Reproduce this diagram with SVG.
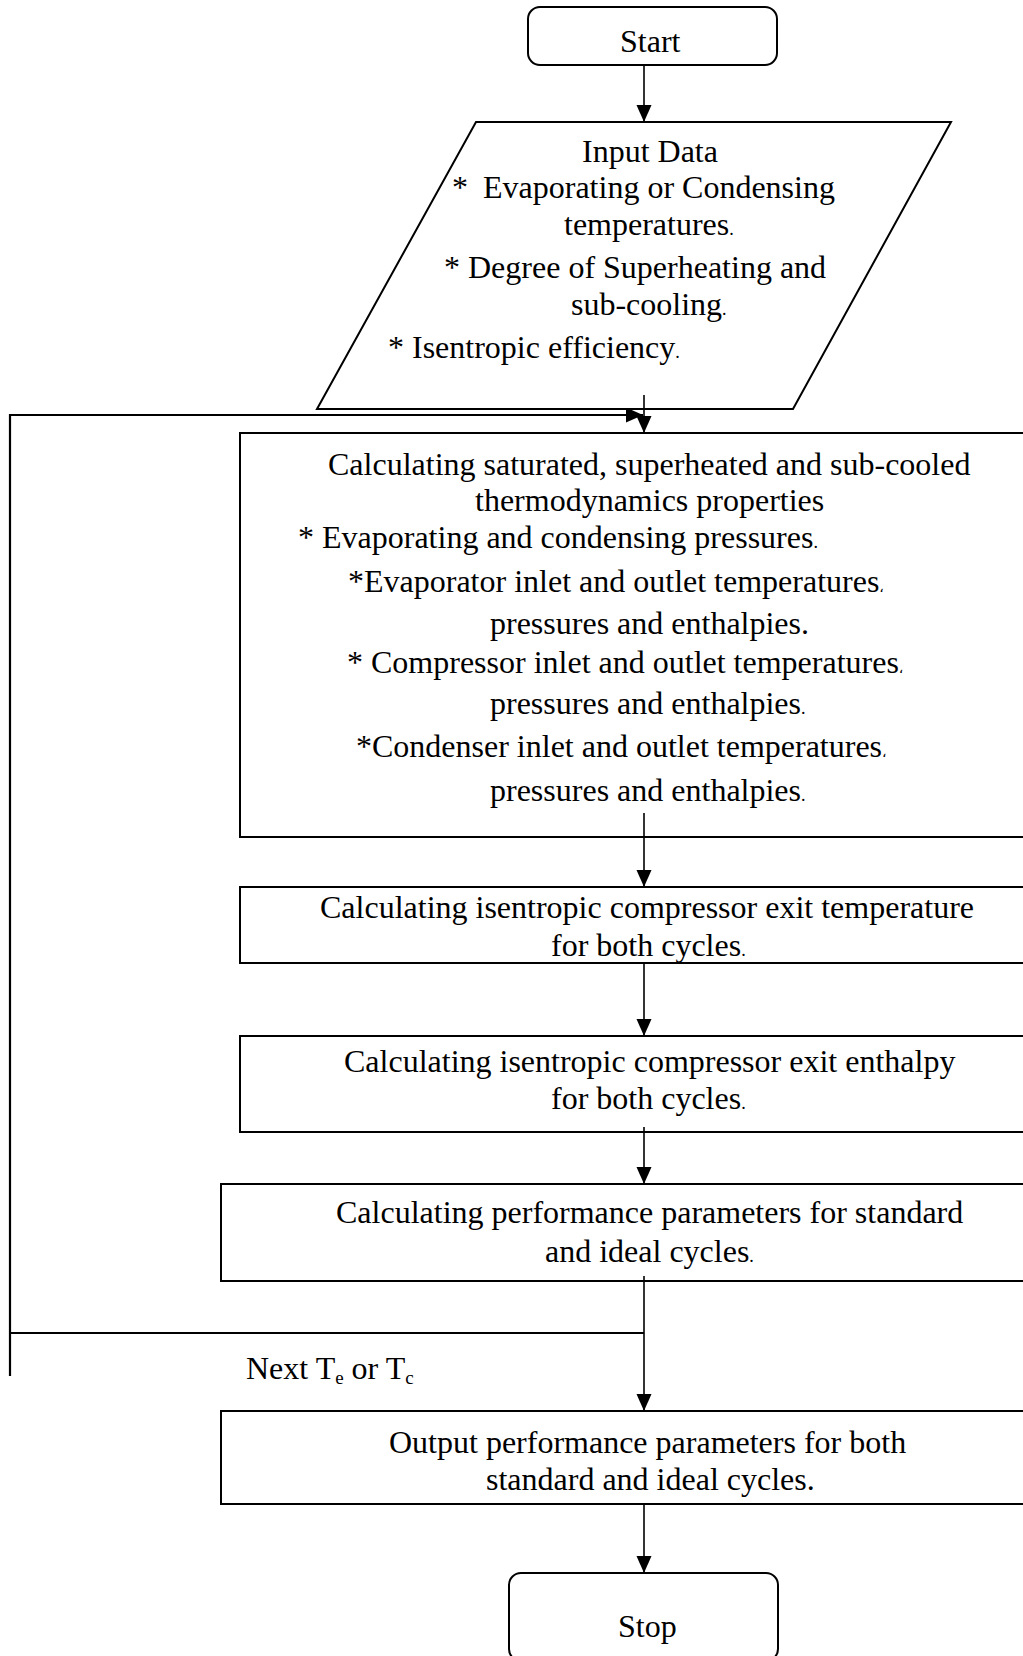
<svg xmlns="http://www.w3.org/2000/svg" width="1023" height="1656" viewBox="0 0 1023 1656">
<defs>
<marker id="ah" markerUnits="userSpaceOnUse" markerWidth="18" markerHeight="16" refX="17" refY="7.5" orient="auto">
<path d="M0,0 L17,7.5 L0,15 z" fill="#000"/>
</marker>
<style>
.nd{fill:#fff;stroke:#000;stroke-width:2}
.cn{fill:none;stroke:#000;stroke-width:1.6}
.lp{fill:none;stroke:#000;stroke-width:2.2}
text{font-family:"Liberation Serif","Times New Roman",serif;font-size:32px;fill:#000}
.sm{font-size:18px}
.ar{font-family:"DejaVu Sans",sans-serif;font-size:14px}
.sub{font-size:19px}
</style>
</defs>
<rect width="1023" height="1656" fill="#fff"/>
<g id="start">
<rect class="nd" x="528" y="7" width="249" height="58" rx="12"/>
<text x="620" y="52">Start</text>
</g>
<g id="input">
<polygon class="nd" points="476,122 951,122 793,409 317,409"/>
<text x="582" y="162">Input Data</text>
<text y="198"><tspan x="452">*</tspan><tspan x="483">Evaporating or Condensing</tspan></text>
<text x="564" y="235">temperatures<tspan class="sm">.</tspan></text>
<text x="444" y="278">* Degree of Superheating and</text>
<text x="571" y="315">sub-cooling<tspan class="sm">.</tspan></text>
<text x="388" y="358">* Isentropic efficiency<tspan class="sm">.</tspan></text>
</g>
<g id="props">
<rect class="nd" x="240" y="433" width="800" height="404"/>
<text x="328" y="475">Calculating saturated, superheated and sub-cooled</text>
<text x="475" y="511">thermodynamics properties</text>
<text x="298" y="548">* Evaporating and condensing pressures<tspan class="sm">.</tspan></text>
<text x="348" y="592">*Evaporator inlet and outlet temperatures<tspan class="ar">،</tspan></text>
<text x="490" y="634">pressures and enthalpies.</text>
<text x="347" y="673">* Compressor inlet and outlet temperatures<tspan class="ar">،</tspan></text>
<text x="490" y="714">pressures and enthalpies<tspan class="sm">.</tspan></text>
<text x="356" y="757">*Condenser inlet and outlet temperatures<tspan class="ar">،</tspan></text>
<text x="490" y="801">pressures and enthalpies<tspan class="sm">.</tspan></text>
</g>
<g id="exit-temp">
<rect class="nd" x="240" y="887" width="800" height="76"/>
<text x="320" y="918">Calculating isentropic compressor exit temperature</text>
<text x="551" y="956">for both cycles<tspan class="sm">.</tspan></text>
</g>
<g id="exit-enth">
<rect class="nd" x="240" y="1036" width="800" height="96"/>
<text x="344" y="1072">Calculating isentropic compressor exit enthalpy</text>
<text x="551" y="1109">for both cycles<tspan class="sm">.</tspan></text>
</g>
<g id="perf">
<rect class="nd" x="221" y="1184" width="820" height="97"/>
<text x="336" y="1223">Calculating performance parameters for standard</text>
<text x="545" y="1262">and ideal cycles<tspan class="sm">.</tspan></text>
</g>
<g id="output">
<rect class="nd" x="221" y="1411" width="820" height="93"/>
<text x="389" y="1453">Output performance parameters for both</text>
<text x="486" y="1490">standard and ideal cycles.</text>
</g>
<g id="stop">
<rect class="nd" x="509" y="1573" width="269" height="88" rx="12"/>
<text x="618" y="1637">Stop</text>
</g>
<g id="connectors">
<path class="cn" d="M644,65 V122" marker-end="url(#ah)"/>
<path class="cn" d="M644,395 V433" marker-end="url(#ah)"/>
<path class="cn" d="M644,813 V887" marker-end="url(#ah)"/>
<path class="cn" d="M644,963 V1036" marker-end="url(#ah)"/>
<path class="cn" d="M644,1127 V1184" marker-end="url(#ah)"/>
<path class="cn" d="M644,1276 V1411" marker-end="url(#ah)"/>
<path class="cn" d="M644,1504 V1573" marker-end="url(#ah)"/>
<path class="lp" d="M644,1333 H10"/>
<path class="lp" d="M10,1376 V415 H643" marker-end="url(#ah)"/>
<text x="246" y="1379">Next T<tspan class="sub" dy="5">e</tspan><tspan dy="-5"> or T</tspan><tspan class="sub" dy="5">c</tspan></text>
</g>
</svg>
